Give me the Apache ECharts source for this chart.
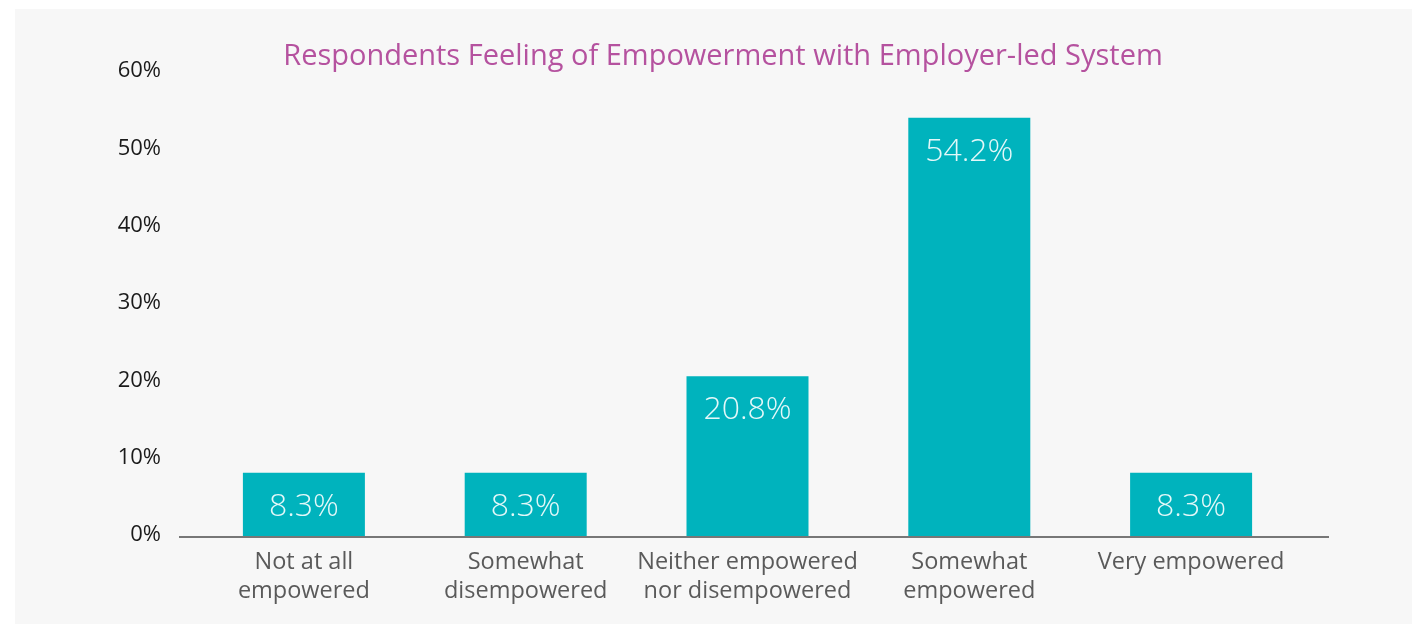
<!DOCTYPE html>
<html>
<head>
<meta charset="utf-8">
<script src="https://cdn.jsdelivr.net/npm/echarts@6/dist/echarts.min.js"></script>
<style>
  html, body { margin: 0; padding: 0; background: #ffffff; }
  #panel { position: absolute; left: 15px; top: 9px; width: 1397px; height: 615px; background: #f7f7f7; }
  #chart { position: absolute; left: 0; top: 0; width: 1412px; height: 624px; }
</style>
</head>
<body>
<div id="panel"></div>
<div id="chart"></div>
<script>
const titleText = 'Respondents Feeling of Empowerment with Employer-led System';
const categories = [
  'Not at all\nempowered',
  'Somewhat\ndisempowered',
  'Neither empowered\nnor disempowered',
  'Somewhat\nempowered',
  'Very empowered'
];
const shares = [8.3, 8.3, 20.8, 54.2, 8.3];
const yTicks = [0, 10, 20, 30, 40, 50, 60];

const FONT = 'Open Sans, Lato, sans-serif';
const chart = echarts.init(document.getElementById('chart'), null, { renderer: 'canvas' });

const option = {
  backgroundColor: 'transparent',
  animation: false,
  title: {
    text: titleText,
    left: 718,
    textAlign: 'center',
    top: 37,
    textStyle: { color: '#b5529f', fontFamily: FONT, fontWeight: 'normal', fontSize: 29 }
  },
  grid: { left: 193, right: 110, top: 73, bottom: 87, containLabel: false },
  xAxis: {
    type: 'category',
    data: categories,
    axisLine: { show: false },
    axisTick: { show: false },
    axisLabel: {
      color: '#5a5a5a', fontFamily: FONT, fontSize: 23.5, lineHeight: 29, margin: 11,
      interval: 0
    }
  },
  yAxis: {
    type: 'value',
    min: yTicks[0],
    max: yTicks[yTicks.length - 1],
    interval: 10,
    splitLine: { show: false },
    axisLine: { show: false },
    axisTick: { show: false },
    axisLabel: {
      color: '#1a1a1a', fontFamily: FONT, fontSize: 22, margin: 32,
      verticalAlign: 'bottom', padding: [0, 0, -9, 0],
      formatter: v => v + '%'
    }
  },
  series: [{
    type: 'bar',
    data: shares,
    barWidth: 122,
    itemStyle: { color: '#00b3bd' },
    label: {
      show: true,
      position: 'insideTop',
      distance: 18,
      color: '#e4f8f9',
      fontFamily: FONT,
      fontWeight: 300,
      fontSize: 32,
      formatter: p => p.value.toFixed(1) + '%'
    }
  }]
};
chart.setOption(option);

// baseline rule, running a little past the category bands on both sides
const y0 = chart.convertToPixel({ yAxisIndex: 0 }, 0);
chart.setOption({
  graphic: [{
    type: 'line',
    shape: { x1: 179, y1: y0, x2: 1329, y2: y0 },
    style: { stroke: '#777777', lineWidth: 2 },
    z: 10
  }]
});
</script>
</body>
</html>
